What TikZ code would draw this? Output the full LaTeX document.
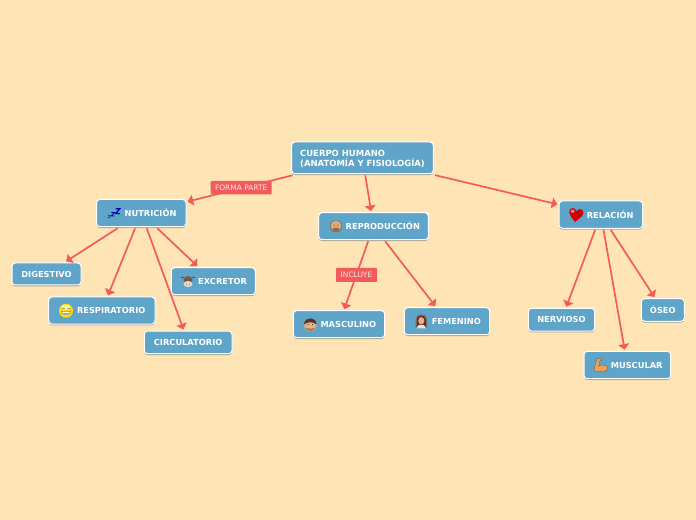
\documentclass[tikz,border=0pt]{standalone}
\usepackage{fontspec}
\setmainfont{DejaVu Sans}
\usetikzlibrary{arrows.meta,shadows}
\definecolor{bg}{HTML}{FFE4B5}
\definecolor{boxblue}{HTML}{5FA5C9}
\definecolor{linkred}{HTML}{F25A5C}
\definecolor{skin}{HTML}{E2B48C}
\definecolor{hairb}{HTML}{5A3326}
\tikzset{
  box/.style={rectangle,rounded corners=2.5pt,fill=boxblue,draw=white,line width=.75pt,
    text=white,font=\fontsize{6.2pt}{7.7pt}\selectfont\bfseries,inner sep=0pt,outer sep=1.2pt,
    drop shadow={shadow xshift=0pt,shadow yshift=-1pt,opacity=.6,fill=black!55}},
  tag/.style={rectangle,rounded corners=.6pt,fill=linkred,text=white!85!linkred,
    font=\fontsize{5.6pt}{7pt}\selectfont,inner sep=0pt},
  link/.style={draw=linkred,line width=1.25pt,-{Triangle[width=8pt,length=4.2pt]}},
}
\newcommand\bx[6]{\node[box,minimum width={(#4-#2)*.75pt},minimum height={(#5-#3)*.75pt}] (#1) at ({(#2+#4)/2},{(#3+#5)/2}) {#6};}
\newcommand\tg[6]{\node[tag,minimum width={(#4-#2)*.75pt},minimum height={(#5-#3)*.75pt}] (#1) at ({(#2+#4)/2},{(#3+#5)/2}) {#6};}
\newcommand\ic{\hspace*{14pt}}
\begin{document}
\begin{tikzpicture}[x=.75pt,y=-.75pt]
\useasboundingbox (0,0) rectangle (696,520);
\fill[bg] (0,0) rectangle (696,520);
\bx{root}{291.7}{142}{433.3}{173.7}{\raisebox{-1.2pt}[\height][\depth]{\fontsize{6.35pt}{7.7pt}\selectfont\begin{tabular}{@{}l@{}}CUERPO HUMANO\\(ANATOMÍA Y FISIOLOGÍA)\end{tabular}}}
\bx{nutri}{96.5}{199.5}{186}{226.7}{\ic NUTRICIÓN}
\bx{dig}{12}{263}{81}{285}{DIGESTIVO}
\bx{resp}{48.7}{297}{155}{324}{\ic RESPIRATORIO}
\bx{excr}{171.3}{267.7}{255.3}{294.7}{\ic EXCRETOR}
\bx{circ}{144.3}{331}{232}{353.7}{CIRCULATORIO}
\bx{repro}{318.7}{212.7}{428.3}{239.7}{\ic REPRODUCCIÓN}
\bx{masc}{293.3}{310.7}{384.7}{337.7}{\ic MASCULINO}
\bx{fem}{404.3}{307.7}{489.7}{334.7}{\ic FEMENINO}
\bx{rel}{559}{201}{642.7}{228.3}{\ic RELACIÓN}
\bx{nerv}{528.3}{308.3}{594.7}{331}{NERVIOSO}
\bx{oseo}{641.3}{298.7}{684.3}{321.3}{ÓSEO}
\bx{musc}{584}{351.3}{670.7}{378.7}{\ic MUSCULAR}
\foreach \a/\b in {root/nutri,root/repro,root/rel,nutri/dig,nutri/resp,nutri/excr,nutri/circ,repro/masc,repro/fem,rel/nerv,rel/oseo,rel/musc}
  \draw[link] (\a) -- (\b);
\tg{t1}{210.7}{181}{271.7}{194.3}{FORMA PARTE}
\tg{t2}{336}{268}{377}{282}{INCLUYE}
% zzz
\begin{scope}[shift={(107.5,208)},line join=miter]
\draw[black!50!boxblue,line width=.45pt] (.5,7.5) -- (2.8,7.5) -- (.5,9.8) -- (2.8,9.8);
\draw[blue!55!black,line width=.6pt] (3.8,4.5) -- (7,4.5) -- (3.8,8) -- (7,8);
\draw[blue!70!black,line width=.9pt] (8,.7) -- (12.3,.7) -- (8,5.6) -- (12.3,5.6);
\end{scope}
% smiley
\begin{scope}[shift={(66,310.7)}]
\fill[yellow!80!orange] (0,0) circle [radius=7];
\fill[yellow!35!white] (0,-3.5) ellipse [x radius=4.5,y radius=2.5];
\fill[white,draw=black!55,line width=.25pt] (-5,.3) .. controls (-2,1.3) and (2,1.3) .. (5,.3) .. controls (4,5.5) and (-4,5.5) .. (-5,.3);
\draw[black!35,line width=.2pt] (-4.6,2.6) -- (4.6,2.6);
\draw[black!55,line width=.4pt] (-4,-2.5) -- (-1.3,-2) (4,-2.5) -- (1.3,-2);
\end{scope}
% cow
\begin{scope}[shift={(188,281.5)}]
\fill[black!50!brown] (-5.6,-4) ellipse [x radius=1.5,y radius=.8] (5.6,-4) ellipse [x radius=1.5,y radius=.8];
\fill[hairb!80!white] (0,-1.5) ellipse [x radius=4.6,y radius=4];
\fill[brown!30!white] (0,2.5) ellipse [x radius=4.5,y radius=3];
\fill[black!85] (-2,-1.5) circle [radius=.6] (2,-1.5) circle [radius=.6] (-1.4,2.6) circle [radius=.45] (1.4,2.6) circle [radius=.45];
\end{scope}
% old man
\begin{scope}[shift={(336,226.3)}]
\fill[black!55] (0,0) circle [radius=6];
\fill[skin!85!orange] (0,-.3) circle [radius=5.3];
\fill[brown!60!black!70!skin] (0,3.3) ellipse [x radius=3.6,y radius=2];
\fill[black!70] (-2,-1) circle [radius=.65] (2,-1) circle [radius=.65];
\end{scope}
% man
\begin{scope}[shift={(310.3,325)}]
\fill[skin] (0,0) circle [radius=6.2];
\fill[hairb] (-6.3,-.5) .. controls (-6.3,-8.5) and (6.3,-8.5) .. (6.3,-.5) .. controls (3,-3.5) and (-3,-3.5) .. (-6.3,-.5);
\fill[brown!70!black!70!skin] (-5,2.5) .. controls (-3,7) and (3,7) .. (5,2.5) .. controls (2,4) and (-2,4) .. (-5,2.5);
\fill[black!80] (-2.2,-.4) circle [radius=.6] (2.2,-.4) circle [radius=.6];
\end{scope}
% bride
\begin{scope}[shift={(421.3,321.3)}]
\fill[black!55] (-5.8,6.5) -- (-5.8,-2.5) .. controls (-5.8,-8.5) and (5.8,-8.5) .. (5.8,-2.5) -- (5.8,6.5) -- cycle;
\fill[hairb!85!red] (-4.5,4.5) -- (-4.5,-2) .. controls (-4.5,-7) and (4.5,-7) .. (4.5,-2) -- (4.5,4.5) -- cycle;
\fill[skin] (0,-.5) ellipse [x radius=3,y radius=3.6];
\fill[white!90!black] (-4.5,7) -- (-2.5,3.5) -- (2.5,3.5) -- (4.5,7) -- cycle;
\end{scope}
% heart
\begin{scope}[shift={(576,214.7)}]
\fill[red!80!black,rotate=-8] (0,7.3) .. controls (-4.5,3) and (-7.5,0) .. (-7,-3.2) .. controls (-6.5,-7) and (-1.5,-7) .. (0,-3.5) .. controls (1.5,-7) and (6.5,-7) .. (7,-3.2) .. controls (7.5,0) and (4.5,3) .. (0,7.3) -- cycle;
\fill[red!55!white,rotate=-8] (-3.8,-3) ellipse [x radius=2,y radius=1.7];
\end{scope}
% arm
\begin{scope}[shift={(600.7,365.3)}]
\fill[orange!35!skin,draw=brown!60!black,line width=.2pt] (-5,6) -- (-6.8,5) .. controls (-6,1) and (-5,-3.5) .. (-3,-6.8) .. controls (-1,-7.3) and (1,-6.8) .. (1.5,-5.3) -- (-1,-4.3) -- (-2,1) .. controls (0,-1) and (5,-.5) .. (7,1.5) .. controls (7.5,4) and (6,6) .. (3,6) -- cycle;
\end{scope}
\end{tikzpicture}
\end{document}
